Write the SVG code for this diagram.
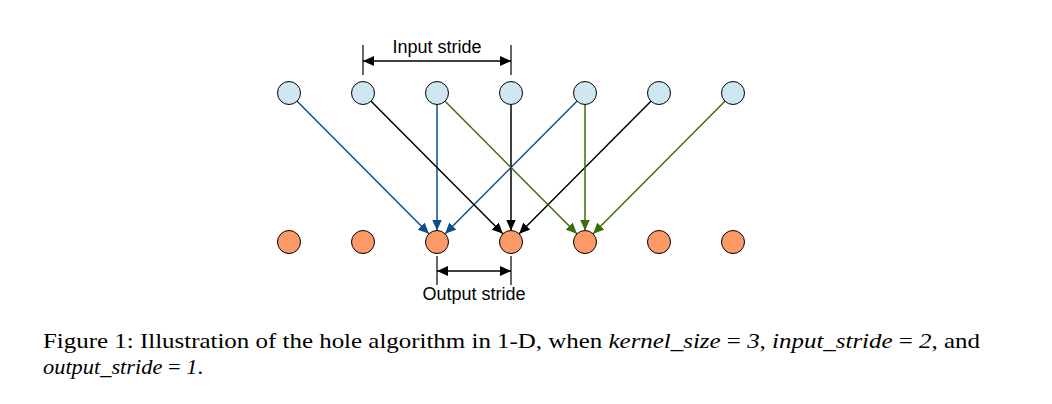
<svg xmlns="http://www.w3.org/2000/svg" width="1052" height="404" viewBox="0 0 1052 404">
<style>
.in{fill:#cfe6f3;stroke:#000;stroke-width:1}
.out{fill:#fb9a66;stroke:#000;stroke-width:1}
.lbl{font-family:"Liberation Sans",Arial,sans-serif;font-size:18px;fill:#000;text-anchor:middle}
.cap{font-family:"Liberation Serif","Times New Roman",serif;font-size:21.5px;fill:#000}
.b{stroke:#0d4f8b;stroke-width:1.5;fill:none;marker-end:url(#ab)}
.k{stroke:#000;stroke-width:1.5;fill:none;marker-end:url(#ak)}
.g{stroke:#3b6e0a;stroke-width:1.5;fill:none;marker-end:url(#ag)}
.tick{stroke:#000;stroke-width:1.2}
.dim{stroke:#000;stroke-width:1.5;marker-start:url(#dk);marker-end:url(#ak)}
</style>
<defs>
<marker id="ab" markerUnits="userSpaceOnUse" markerWidth="12" markerHeight="10" refX="11" refY="5" orient="auto"><path d="M0,0 L11,5 L0,10 Z" fill="#0d4f8b"/></marker>
<marker id="ak" markerUnits="userSpaceOnUse" markerWidth="12" markerHeight="10" refX="11" refY="5" orient="auto"><path d="M0,0 L11,5 L0,10 Z" fill="#000"/></marker>
<marker id="ag" markerUnits="userSpaceOnUse" markerWidth="12" markerHeight="10" refX="11" refY="5" orient="auto"><path d="M0,0 L11,5 L0,10 Z" fill="#3b6e0a"/></marker>
<marker id="dk" markerUnits="userSpaceOnUse" markerWidth="12" markerHeight="10" refX="0" refY="5" orient="auto"><path d="M11,0 L0,5 L11,10 Z" fill="#000"/></marker>
</defs>
<rect width="1052" height="404" fill="#fff"/>
<g id="connectors">
<line class="b" x1="297.1" y1="101.2" x2="428.9" y2="233.8"/>
<line class="b" x1="437" y1="104.5" x2="437" y2="230.5"/>
<line class="b" x1="576.9" y1="101.2" x2="445.1" y2="233.8"/>
<line class="k" x1="371.1" y1="101.2" x2="502.9" y2="233.8"/>
<line class="k" x1="511" y1="104.5" x2="511" y2="230.5"/>
<line class="k" x1="650.9" y1="101.2" x2="519.1" y2="233.8"/>
<line class="g" x1="445.1" y1="101.2" x2="576.9" y2="233.8"/>
<line class="g" x1="585" y1="104.5" x2="585" y2="230.5"/>
<line class="g" x1="724.9" y1="101.2" x2="593.1" y2="233.8"/>
</g>
<g id="input-stride">
<line class="tick" x1="363" y1="45" x2="363" y2="75"/>
<line class="tick" x1="511" y1="45" x2="511" y2="75"/>
<line class="dim" x1="363" y1="61" x2="511" y2="61"/>
<text class="lbl" x="437" y="52.5">Input stride</text>
</g>
<g id="output-stride">
<line class="tick" x1="437" y1="256" x2="437" y2="285"/>
<line class="tick" x1="511" y1="256" x2="511" y2="285"/>
<line class="dim" x1="437" y1="271" x2="511" y2="271"/>
<text class="lbl" x="474" y="300">Output stride</text>
</g>
<g id="in0"><circle class="in" cx="289" cy="93" r="11.5"/></g>
<g id="in1"><circle class="in" cx="363" cy="93" r="11.5"/></g>
<g id="in2"><circle class="in" cx="437" cy="93" r="11.5"/></g>
<g id="in3"><circle class="in" cx="511" cy="93" r="11.5"/></g>
<g id="in4"><circle class="in" cx="585" cy="93" r="11.5"/></g>
<g id="in5"><circle class="in" cx="659" cy="93" r="11.5"/></g>
<g id="in6"><circle class="in" cx="733" cy="93" r="11.5"/></g>
<g id="out0"><circle class="out" cx="289" cy="242" r="11.5"/></g>
<g id="out1"><circle class="out" cx="363" cy="242" r="11.5"/></g>
<g id="out2"><circle class="out" cx="437" cy="242" r="11.5"/></g>
<g id="out3"><circle class="out" cx="511" cy="242" r="11.5"/></g>
<g id="out4"><circle class="out" cx="585" cy="242" r="11.5"/></g>
<g id="out5"><circle class="out" cx="659" cy="242" r="11.5"/></g>
<g id="out6"><circle class="out" cx="733" cy="242" r="11.5"/></g>
<g id="caption">
<text class="cap" x="43" y="347.5" textLength="937" lengthAdjust="spacingAndGlyphs">Figure 1: Illustration of the hole algorithm in 1-D, when <tspan font-style="italic">kernel_size</tspan> = <tspan font-style="italic">3</tspan>, <tspan font-style="italic">input_stride</tspan> = <tspan font-style="italic">2</tspan>, and</text>
<text class="cap" x="43" y="373.5" textLength="160" lengthAdjust="spacingAndGlyphs"><tspan font-style="italic">output_stride</tspan> = <tspan font-style="italic">1</tspan>.</text>
</g>
</svg>
